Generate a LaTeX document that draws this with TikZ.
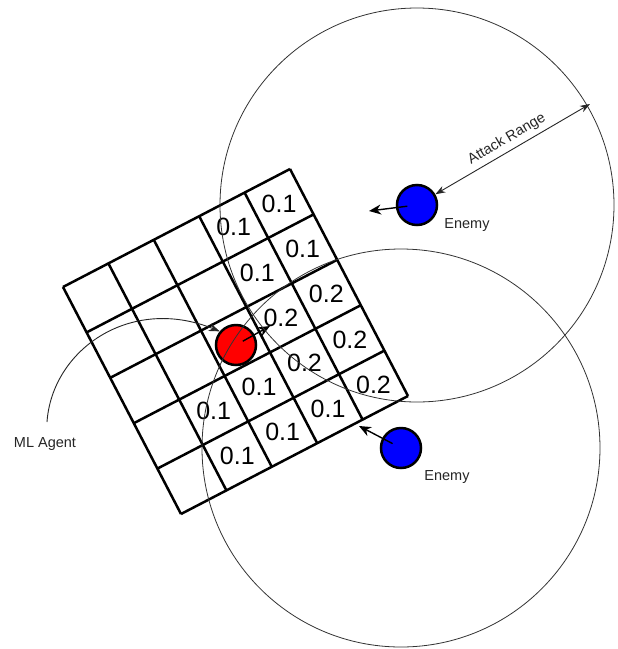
\documentclass[tikz,border=0pt]{standalone}
\usepackage{fontspec}
\setmainfont{Liberation Sans}
\usetikzlibrary{arrows.meta,calc}
\begin{document}
\begin{tikzpicture}[x=1pt,y=-1pt,
  gridline/.style={line width=2.5pt,draw=black},
  rangecircle/.style={line width=0.8pt,draw=black!80},
  agent/.style={circle,draw=black,line width=2.5pt,minimum size=40pt,inner sep=0pt},
  cellnum/.style={font=\fontsize{25}{25}\selectfont,inner sep=0pt},
  smalltext/.style={font=\fontsize{14.5}{15}\selectfont,text=black!85},
  heading/.style={line width=1.4pt,-{Stealth[length=12pt,width=10pt]}},
  pointer/.style={line width=0.9pt,draw=black!85},
]
\useasboundingbox[fill=white] (0,0) rectangle (618,649);
\def\ox{63}\def\oy{287}
\def\ux{45.4}\def\uy{-23.6}\def\vx{23.6}\def\vy{45.4}
% grid
\foreach \i in {0,...,5}{
  \draw[gridline] ({\ox+\i*\ux},{\oy+\i*(\uy)}) -- ({\ox+\i*\ux+5*\vx},{\oy+\i*(\uy)+5*\vy});
  \draw[gridline] ({\ox+\i*\vx},{\oy+\i*\vy}) -- ({\ox+\i*\vx+5*\ux},{\oy+\i*\vy+5*(\uy)});
}
% cell values
\foreach \c/\r/\t in {3/0/0.1,4/0/0.1,3/1/0.1,4/1/0.1,3/2/0.2,4/2/0.2,
                      1/3/0.1,2/3/0.1,3/3/0.2,4/3/0.2,
                      1/4/0.1,2/4/0.1,3/4/0.1,4/4/0.2}{
  \node[cellnum] (cell\c\r) at ({\ox+(\c+0.5)*\ux+(\r+0.5)*\vx},{\oy+(\c+0.5)*(\uy)+(\r+0.5)*\vy}) {\t};
}
% agents
\node[agent,fill=red] (ml) at (236,345) {};
\node[agent,fill=blue] (e1) at (417,205) {};
\node[agent,fill=blue] (e2) at (401,448) {};
% headings
\coordinate (h0) at (270,326);
\coordinate (h1) at (369,211);
\coordinate (h2) at (359,426);
\draw[heading] ($(ml.center)!0.2!(h0)$) -- (h0);
\draw[heading] ($(e1.center)!0.2!(h1)$) -- (h1);
\draw[heading] ($(e2.center)!0.2!(h2)$) -- (h2);
% attack ranges
\draw[rangecircle] (e1.center) circle[radius=197];
\draw[rangecircle] (e2.center) circle[radius=199];
% labels
\node[smalltext] (lab1) at (467,225) {Enemy};
\node[smalltext] (lab2) at (447,477) {Enemy};
\node[smalltext] (labml) at (45,444) {ML Agent};
% attack range arrow
\coordinate (rt) at (590,104);
\draw[pointer,{Stealth[length=10pt,width=7pt]}-{Stealth[length=10pt,width=7pt]}] (e1) -- (rt)
  node[midway,sloped,above=1pt,smalltext] (atk) {Attack Range};
% ML agent pointer
\coordinate (mls) at (47,422);
\draw[pointer,-{Stealth[length=11pt,width=8pt]}] (mls) .. controls (52,350) and (130,295) .. (ml.140);
\end{tikzpicture}
\end{document}
